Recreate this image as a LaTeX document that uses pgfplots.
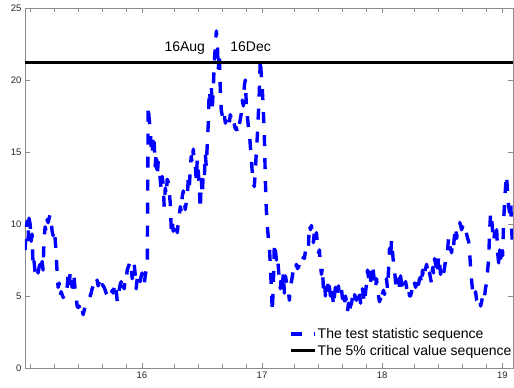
\documentclass[border=0pt]{standalone}
\usepackage{fontspec}
\setmainfont{Liberation Sans}
\usepackage{pgfplots}
\pgfplotsset{compat=1.18}
\usepackage{pgfplotstable}
\usetikzlibrary{calc}

\pgfplotstableread{
x y
15.028 8.2
15.036 9.5
15.045 10.2
15.053 8.9
15.061 10.4
15.070 10.0
15.078 8.8
15.086 9.3
15.095 7.0
15.103 7.4
15.111 6.7
15.120 6.5
15.128 6.9
15.136 6.6
15.145 7.0
15.153 7.2
15.161 6.8
15.170 7.4
15.178 6.8
15.186 8.9
15.195 9.8
15.203 9.5
15.211 10.3
15.220 10.1
15.228 10.4
15.236 10.65
15.245 10.3
15.253 9.5
15.261 9.2
15.270 9.6
15.278 9.0
15.286 8.0
15.295 6.6
15.303 5.6
15.311 5.9
15.320 5.0
15.328 5.3
15.336 5.1
15.345 4.9
15.353 5.0
15.361 4.9
15.370 5.0
15.378 5.6
15.386 6.4
15.395 5.7
15.403 6.6
15.411 6.0
15.420 5.6
15.428 6.6
15.436 6.3
15.445 5.4
15.453 5.0
15.461 4.3
15.470 4.2
15.478 4.3
15.486 4.1
15.495 3.9
15.503 4.2
15.511 3.7
15.520 4.0
15.528 4.3
15.536 4.4
15.545 4.6
15.553 4.7
15.561 4.8
15.570 5.0
15.578 5.2
15.586 5.5
15.595 5.7
15.603 6.1
15.611 6.0
15.620 5.9
15.628 6.1
15.636 5.7
15.645 6.0
15.653 5.8
15.661 5.5
15.670 5.8
15.678 5.7
15.686 5.6
15.695 5.4
15.703 5.2
15.711 5.1
15.720 4.9
15.728 5.0
15.736 4.9
15.745 5.1
15.753 5.4
15.761 5.2
15.770 5.6
15.778 5.9
15.786 5.5
15.795 4.6
15.803 5.2
15.811 5.4
15.820 5.8
15.828 6.0
15.836 5.3
15.845 5.7
15.853 5.5
15.861 6.1
15.870 6.0
15.878 6.8
15.886 7.0
15.895 7.2
15.903 7.4
15.911 6.9
15.920 6.2
15.928 6.8
15.936 7.2
15.945 6.5
15.953 5.5
15.961 6.2
15.970 6.5
15.978 6.4
15.986 6.0
15.995 6.4
16.003 6.6
16.011 6.2
16.020 5.8
16.028 6.4
16.036 6.8
16.045 7.0
16.053 18.2
16.061 17.3
16.070 16.5
16.078 15.3
16.086 14.8
16.095 16.2
16.103 15.6
16.111 14.0
16.120 15.0
16.128 13.3
16.136 14.3
16.145 13.9
16.153 13.1
16.161 12.4
16.170 13.3
16.178 12.7
16.186 11.2
16.195 12.5
16.203 12.0
16.211 13.1
16.220 12.9
16.228 12.2
16.236 11.5
16.245 9.6
16.253 10.2
16.261 9.5
16.270 9.8
16.278 9.4
16.286 9.7
16.295 9.4
16.303 10.1
16.311 10.5
16.320 11.2
16.328 10.9
16.336 11.9
16.345 12.3
16.353 11.6
16.361 11.0
16.370 11.5
16.378 11.8
16.386 13.1
16.395 12.5
16.403 13.8
16.411 14.7
16.420 14.2
16.428 15.2
16.436 14.2
16.445 14.0
16.453 13.0
16.461 14.5
16.470 13.6
16.478 12.6
16.486 11.0
16.495 13.1
16.503 12.0
16.511 13.5
16.520 13.2
16.528 14.9
16.536 14.0
16.545 15.6
16.553 17.0
16.561 19.3
16.570 18.6
16.578 19.6
16.586 18.0
16.595 19.5
16.603 21.2
16.611 22.3
16.620 23.4
16.628 22.6
16.636 20.7
16.645 21.9
16.653 19.3
16.661 17.9
16.670 17.5
16.678 17.2
16.686 17.6
16.695 17.0
16.703 17.3
16.711 17.0
16.720 17.2
16.728 17.0
16.736 17.6
16.745 17.3
16.753 17.5
16.761 17.2
16.770 16.9
16.778 16.6
16.786 16.7
16.795 16.3
16.803 16.4
16.811 16.9
16.820 17.3
16.828 17.7
16.836 18.6
16.845 18.2
16.853 19.6
16.861 20.0
16.870 18.2
16.878 17.5
16.886 16.8
16.895 16.4
16.903 15.4
16.911 14.5
16.920 13.5
16.928 12.8
16.936 12.6
16.945 13.8
16.953 15.0
16.961 16.1
16.970 17.7
16.978 19.3
16.986 21.5
16.995 20.2
17.003 19.3
17.011 17.9
17.020 16.0
17.028 13.0
17.036 11.0
17.045 9.8
17.053 9.0
17.061 8.5
17.070 7.0
17.078 5.5
17.086 3.9
17.095 6.0
17.103 8.7
17.111 8.2
17.120 7.5
17.128 7.8
17.136 7.0
17.145 6.0
17.153 5.5
17.161 6.4
17.170 5.8
17.178 6.6
17.186 5.2
17.195 6.4
17.203 6.0
17.211 5.5
17.220 5.3
17.228 4.7
17.236 5.6
17.245 6.0
17.253 6.4
17.261 6.8
17.270 7.0
17.278 6.8
17.286 7.2
17.295 6.9
17.303 7.0
17.311 7.2
17.320 7.4
17.328 7.2
17.336 7.4
17.345 7.7
17.353 7.6
17.361 8.1
17.370 7.9
17.378 8.2
17.386 8.4
17.395 9.95
17.403 9.6
17.411 9.9
17.420 9.4
17.428 8.7
17.436 9.5
17.445 9.0
17.453 9.4
17.461 8.6
17.470 8.0
17.478 8.2
17.486 7.2
17.495 6.5
17.503 7.0
17.511 5.5
17.520 6.0
17.528 5.0
17.536 5.8
17.545 5.4
17.553 6.2
17.561 5.6
17.570 5.0
17.578 5.6
17.586 5.2
17.595 4.3
17.603 5.0
17.611 5.6
17.620 5.3
17.628 5.0
17.636 5.7
17.645 5.2
17.653 5.6
17.661 5.5
17.670 4.8
17.678 5.0
17.686 4.4
17.695 5.0
17.703 4.6
17.711 3.9
17.720 4.5
17.728 3.8
17.736 4.3
17.745 4.5
17.753 4.9
17.761 4.6
17.770 5.1
17.778 4.8
17.786 4.7
17.795 5.3
17.803 5.0
17.811 5.2
17.820 4.5
17.828 5.0
17.836 5.5
17.845 5.0
17.853 4.5
17.861 5.2
17.870 5.9
17.878 6.8
17.886 6.3
17.895 5.7
17.903 6.0
17.911 6.9
17.920 7.2
17.928 6.6
17.936 6.0
17.945 5.5
17.953 6.2
17.961 5.5
17.970 5.0
17.978 4.6
17.986 4.8
17.995 4.5
18.003 5.2
18.011 5.4
18.020 5.1
18.028 5.8
18.036 6.2
18.045 5.5
18.053 6.8
18.061 8.3
18.070 7.6
18.078 8.9
18.086 8.1
18.095 7.2
18.103 6.8
18.111 6.0
18.120 5.6
18.128 5.5
18.136 6.2
18.145 5.6
18.153 6.4
18.161 5.9
18.170 5.5
18.178 5.3
18.186 5.8
18.195 6.0
18.203 5.6
18.211 5.2
18.220 5.5
18.228 5.0
18.236 5.0
18.245 5.3
18.253 5.7
18.261 5.5
18.270 5.9
18.278 5.6
18.286 5.8
18.295 6.3
18.303 5.8
18.311 6.2
18.320 6.3
18.328 5.8
18.336 6.8
18.345 6.2
18.353 6.6
18.361 6.9
18.370 7.2
18.378 6.8
18.386 6.3
18.395 6.6
18.403 6.2
18.411 5.9
18.420 7.0
18.428 6.6
18.436 7.6
18.445 7.2
18.453 6.9
18.461 6.5
18.470 7.8
18.478 7.3
18.486 6.5
18.495 6.8
18.503 6.4
18.511 6.6
18.520 7.0
18.528 7.5
18.536 7.7
18.545 8.2
18.553 9.1
18.561 8.5
18.570 8.3
18.578 8.0
18.586 8.8
18.595 8.5
18.603 9.3
18.611 9.8
18.620 9.0
18.628 9.6
18.636 9.9
18.645 10.1
18.653 9.9
18.661 9.6
18.670 9.8
18.678 9.5
18.686 9.7
18.695 9.5
18.703 9.3
18.711 9.0
18.720 8.8
18.728 8.0
18.736 7.0
18.745 6.0
18.753 5.4
18.761 5.2
18.770 4.9
18.778 5.3
18.786 4.7
18.795 4.6
18.803 4.5
18.811 4.8
18.820 4.3
18.828 4.6
18.836 5.0
18.845 5.3
18.853 5.0
18.861 5.6
18.870 5.9
18.878 6.8
18.886 7.5
18.895 9.6
18.903 10.8
18.911 10.4
18.920 9.5
18.928 8.8
18.936 9.4
18.945 8.9
18.953 9.6
18.961 8.0
18.970 7.3
18.978 8.2
18.986 7.6
18.995 8.4
19.003 7.8
19.011 10.2
19.020 11.7
19.028 12.7
19.036 13.4
19.045 11.9
19.053 11.2
19.061 10.8
19.070 11.5
19.078 9.6
19.086 8.2
}\teststat

\begin{document}
\begin{tikzpicture}
\begin{axis}[
  scale only axis,
  width=488pt, height=360pt,
  xmin=15.0275, xmax=19.089,
  ymin=0, ymax=25,
  xtick={16,17,18,19},
  ytick={0,5,10,15,20,25},
  minor xtick={15.07,15.27,15.47,15.67,15.87,16.27,16.47,16.67,16.87,17.27,17.47,17.67,17.87,18.27,18.47,18.67,18.87},
  tick align=inside,
  major tick length=5pt,
  minor tick length=4pt,
  axis line style={black!45, line width=0.6pt},
  every tick/.style={black!45, line width=0.6pt},
  tick label style={font=\fontsize{9.5}{11}\selectfont, text=black!85},
  /pgf/number format/assume math mode=true,
  legend style={draw=none, fill=none, inner sep=0pt, at={(axis description cs:0.541,0.118)}, anchor=north west,
    font=\fontsize{14}{16}\selectfont, nodes={inner xsep=1pt, inner ysep=2.5pt}, row sep=0pt, column sep=0pt},
  legend cell align=left,
  legend image code/.code={\draw[#1] (0pt,0pt) -- (24pt,0pt);},
]
\addplot[blue, line width=3.4pt, dash pattern=on 11pt off 12pt, line join=round] table[x=x,y=y] {\teststat};
\addlegendentry{The test statistic sequence}
\addplot[black, line width=3.5pt] coordinates {(15.0275,21.2) (19.089,21.2)};
\addlegendentry{The 5\% critical value sequence}
\node[anchor=base, font=\fontsize{14}{16}\selectfont] at (axis cs:16.357,21.99) {16Aug};
\node[anchor=base, font=\fontsize{14}{16}\selectfont] at (axis cs:16.905,21.99) {16Dec};
\end{axis}
\pgfresetboundingbox
\path[use as bounding box] ($(current axis.south west)+(-25pt,-19.7pt)$) rectangle ($(current axis.north east)+(1pt,8pt)$);
\end{tikzpicture}
\end{document}
